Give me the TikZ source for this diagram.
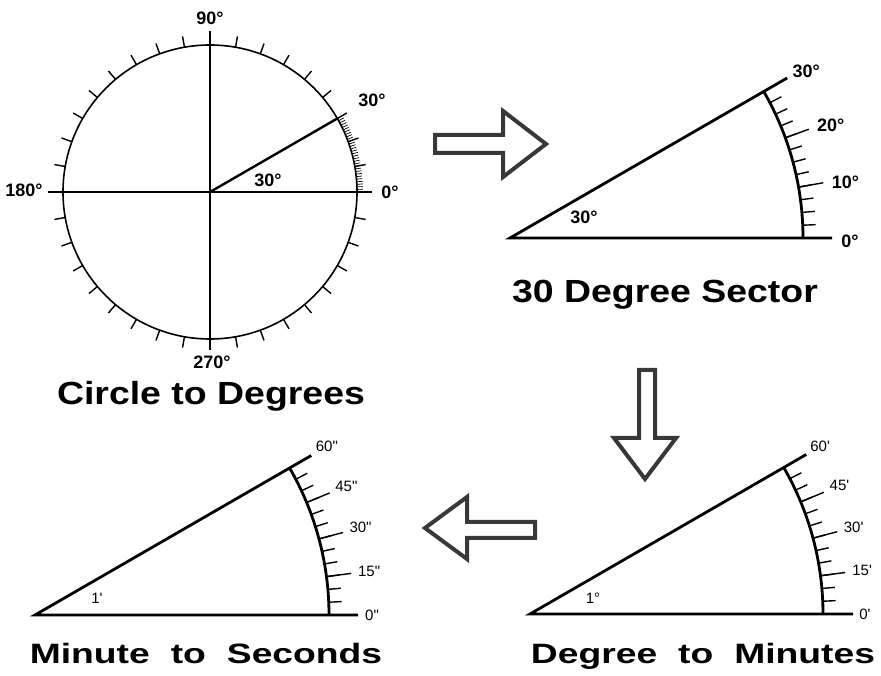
\documentclass[tikz,border=0pt]{standalone}
\usepackage{fontspec}
\setmainfont{Liberation Sans}
\usepackage{tikz}
\usetikzlibrary{positioning}

\begin{document}
\begin{tikzpicture}[
  x=1pt, y=1pt,
  every node/.style={inner sep=0pt},
  degree/.style={font=\bfseries\fontsize{18}{20}\selectfont},
  tiny/.style={font=\fontsize{15}{17}\selectfont},
  title/.style={font=\bfseries\fontsize{32}{36}\selectfont, anchor=base, transform shape, xscale=1.17},
  subtitle/.style={font=\bfseries\fontsize{28}{32}\selectfont, anchor=base, transform shape, xscale=1.33},
  rim/.style={line width=1.6pt},
  axis/.style={line width=2.4pt},
  tick/.style={line width=1.4pt},
  hatch/.style={line width=0.7pt},
  edge/.style={line width=2.8pt},
  blockarrow/.style={draw=black!78, line width=4pt, fill=white, line join=miter}
]
\useasboundingbox (0,0) rectangle (881,675);

% circle
\coordinate (o) at (210,483);
\draw[rim] (o) circle (147);
\foreach \a in {0,10,...,350}
  \draw[tick] ([shift={(\a:147)}]o) -- ([shift={(\a:158)}]o);
\foreach \a in {1,...,29}
  \draw[hatch] ([shift={(\a:147)}]o) -- ([shift={(\a:153)}]o);
\draw[axis] ([shift={(90:161)}]o) -- ([shift={(270:154)}]o);
\draw[rim] ([shift={(180:162)}]o) -- ([shift={(0:162)}]o);
\draw[axis] (o) -- ([shift={(30:147)}]o);

\node[degree] (c90) at (210,657) {90°};
\node[degree] (c30) at (372,575) {30°};
\node[degree] (c0) at (390,483) {0°};
\node[degree] (c180) at (24,485) {180°};
\node[degree] (c270) at (212,313) {270°};
\node[degree] (cangle) at (268,495) {30°};
\node[title] (circletitle) at (211,270) {Circle to Degrees};

% 30 degree sector
\coordinate (v1) at (510,437);
\draw[edge] ([shift={(0:322)}]v1) -- (v1) -- ([shift={(30:320)}]v1);
\draw[edge] ([shift={(0:293)}]v1) arc[start angle=0, end angle=30, radius=293];
\foreach \a in {2.5,5.0,...,27.5}
  \draw[tick] ([shift={(\a:293)}]v1) -- ([shift={(\a:306)}]v1);
\foreach \a in {10,20}
  \draw[tick] ([shift={(\a:293)}]v1) -- ([shift={(\a:318)}]v1);
\foreach \v in {0,10,20,30}
  \node[degree] (s\v) at ([shift={(\v-0.6:340)}]v1) {\v°};
\node[degree] (sangle) at (584,458) {30°};
\node[title] (sectortitle) at (665,372) {30 Degree Sector};

% degree to minutes
\coordinate (v2) at (530,61);
\draw[edge] ([shift={(0:323)}]v2) -- (v2) -- ([shift={(30:319)}]v2);
\draw[edge] ([shift={(0:293)}]v2) arc[start angle=0, end angle=30, radius=293];
\foreach \a in {2.5,5.0,...,27.5}
  \draw[tick] ([shift={(\a:293)}]v2) -- ([shift={(\a:306)}]v2);
\foreach \a in {7.5,15,22.5}
  \draw[tick] ([shift={(\a:293)}]v2) -- ([shift={(\a:318)}]v2);
\foreach \v [evaluate=\v as \a using \v/2] in {0,15,30,45,60}
  \node[tiny] (m\v) at ([shift={(\a:335)}]v2) {\v\textquotesingle};
\node[tiny] (mangle) at (593,77) {1°};
\node[subtitle] (minutetitle) at (703,12) {Degree\hspace{8pt} to\hspace{8pt} Minutes};

% minute to seconds
\coordinate (v3) at (35,60);
\draw[edge] ([shift={(0:323)}]v3) -- (v3) -- ([shift={(30:319)}]v3);
\draw[edge] ([shift={(0:294)}]v3) arc[start angle=0, end angle=30, radius=294];
\foreach \a in {2.5,5.0,...,27.5}
  \draw[tick] ([shift={(\a:294)}]v3) -- ([shift={(\a:307)}]v3);
\foreach \a in {7.5,15,22.5}
  \draw[tick] ([shift={(\a:294)}]v3) -- ([shift={(\a:319)}]v3);
\foreach \v [evaluate=\v as \a using \v/2] in {0,15,30,45,60}
  \node[tiny] (n\v) at ([shift={(\a:337)}]v3) {\v\textquotedbl};
\node[tiny] (nangle) at (97,77) {1\textquotesingle};
\node[subtitle] (secondtitle) at (206,12) {Minute\hspace{8pt} to\hspace{8pt} Seconds};

% block arrows
\draw[blockarrow] (435,522) -- (503,522) -- (503,498) -- (546,531)
  -- (503,564) -- (503,540) -- (435,540) -- cycle;
\draw[blockarrow] (639,305) -- (655,305) -- (655,237) -- (676,237)
  -- (645,196) -- (614,237) -- (639,237) -- cycle;
\draw[blockarrow] (425,147) -- (467,178) -- (467,153) -- (535,153)
  -- (535,137) -- (467,137) -- (467,116) -- cycle;
\end{tikzpicture}
\end{document}
